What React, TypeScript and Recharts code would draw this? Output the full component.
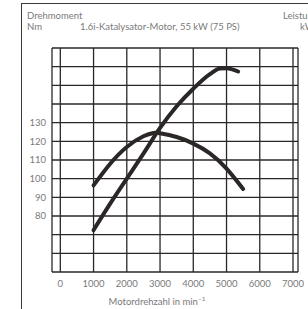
import { CartesianGrid, Line, LineChart, XAxis, YAxis } from "recharts";

const rpmTicks = [0, 1000, 2000, 3000, 4000, 5000, 6000, 7000];
const torqueTicks = [50, 60, 70, 80, 90, 100, 110, 120, 130, 140, 150, 160, 170];
const labelledTorque = [80, 90, 100, 110, 120, 130];

const torqueRpm = [1000, 1500, 2000, 2500, 2800, 3000, 3500, 4000, 4500, 5000, 5500];
const torqueNm = [96.4, 108, 117, 122.7, 124.5, 124.3, 122.3, 118.8, 113.6, 105.4, 94.5];

const powerRpm = [1000, 1500, 2000, 2500, 3000, 3500, 4000, 4500, 4800, 5000, 5350];
const powerKw = [11.2, 18.3, 25, 31.7, 38.6, 44.4, 49.1, 53, 54.5, 54.6, 53.7];

const torqueData = torqueRpm.map((rpm, i) => ({ rpm, nm: torqueNm[i] }));
const powerData = powerRpm.map((rpm, i) => ({ rpm, kw: powerKw[i] }));

const ink = "#2b2727";
const textGrey = "#7a7a7a";
const font = "Lato, 'Open Sans', sans-serif";

const label = { position: "absolute" as const, fontSize: 9.5, color: textGrey, whiteSpace: "nowrap" as const };

export default function App() {
  return (
    <div
      style={{
        position: "absolute",
        left: 0,
        top: 0,
        width: 308,
        height: 309,
        overflow: "hidden",
        background: "#fff",
        fontFamily: font,
      }}
    >
      <div
        style={{
          position: "absolute",
          left: 21,
          top: 3,
          width: 400,
          height: 400,
          borderLeft: "1.5px solid #3a3a3a",
          borderTop: "1.5px solid #3a3a3a",
        }}
      />
      <div style={{ ...label, left: 27, top: 10 }}>Drehmoment</div>
      <div style={{ ...label, left: 27, top: 21 }}>Nm</div>
      <div style={{ ...label, left: 80, top: 21 }}>1.6i-Katalysator-Motor, 55 kW (75 PS)</div>
      <div style={{ ...label, left: 283, top: 10 }}>Leistung</div>
      <div style={{ ...label, left: 300, top: 21 }}>kW</div>
      <div style={{ ...label, left: 0, width: 314, top: 295, textAlign: "center" }}>
        Motordrehzahl in min<sup style={{ fontSize: 6.5 }}>−1</sup>
      </div>
      <LineChart
        width={308}
        height={309}
        margin={{ top: 48, right: 10, bottom: 0, left: 0 }}
        style={{ position: "absolute", left: 0, top: 0 }}
      >
        <CartesianGrid yAxisId="nm" stroke={ink} strokeWidth={1.3} />
        <XAxis
          dataKey="rpm"
          type="number"
          domain={[-250, 7150]}
          ticks={rpmTicks}
          interval={0}
          allowDuplicatedCategory={false}
          height={37}
          axisLine={false}
          tickLine={false}
          tickSize={0}
          tickMargin={8}
          tick={{ fill: textGrey, fontSize: 9.5, fontFamily: font }}
        />
        <YAxis
          yAxisId="nm"
          type="number"
          domain={[50, 170]}
          ticks={torqueTicks}
          interval={0}
          width={52}
          axisLine={false}
          tickLine={false}
          tickSize={0}
          tickMargin={6}
          tickFormatter={(v: number) => (labelledTorque.includes(v) ? String(v) : "")}
          tick={{ fill: textGrey, fontSize: 9.5, fontFamily: font }}
        />
        <YAxis yAxisId="kw" orientation="right" type="number" domain={[0, 60]} hide />
        <Line
          yAxisId="nm"
          data={torqueData}
          dataKey="nm"
          type="natural"
          stroke={ink}
          strokeWidth={4}
          strokeLinecap="round"
          dot={false}
          isAnimationActive={false}
        />
        <Line
          yAxisId="kw"
          data={powerData}
          dataKey="kw"
          type="monotone"
          stroke={ink}
          strokeWidth={4}
          strokeLinecap="round"
          dot={false}
          isAnimationActive={false}
        />
      </LineChart>
    </div>
  );
}
